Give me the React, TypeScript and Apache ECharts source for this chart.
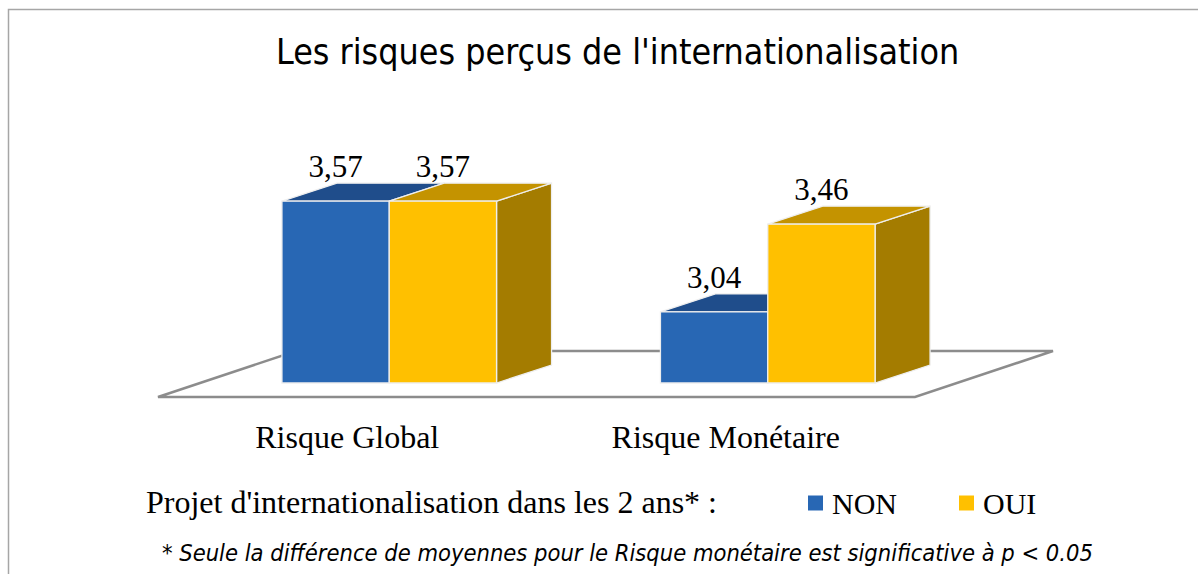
import React, { useEffect, useRef } from "react";
import * as echarts from "echarts";

const categories = ["Risque Global", "Risque Monétaire"];
const seriesNames = ["NON", "OUI"];
const nonValues = [3.57, 3.04];
const ouiValues = [3.57, 3.46];
const valueLabels = ["3,57", "3,04", "3,57", "3,46"];

const FRONT = ["#2867B4", "#FFC000"];
const TOP = ["#1F4D8B", "#C49300"];
const SIDE = ["#1A3F72", "#A47C00"];
const DX = 55;
const DY = -18;
const BAR_FRAC = 0.2835;

function makeBarRender(si: number) {
  return (params: any, api: any) => {
    const cat = api.value(0);
    const val = api.value(1);
    const [cx, yTop] = api.coord([cat, val]);
    const cs = params.coordSys;
    const yBot = cs.y + cs.height;
    const band = api.size([1, 0])[0];
    const bw = band * BAR_FRAC;
    const x0 = si === 0 ? cx - bw : cx;
    const x1 = x0 + bw;
    const stroke = { stroke: "#eeeeee", lineWidth: 1.3 };
    const lbl = valueLabels[si * 2 + params.dataIndex];
    return {
      type: "group",
      children: [
        {
          type: "polygon",
          shape: { points: [[x1, yTop], [x1 + DX, yTop + DY], [x1 + DX, yBot + DY], [x1, yBot]] },
          style: { fill: SIDE[si], ...stroke },
        },
        {
          type: "polygon",
          shape: { points: [[x0, yTop], [x1, yTop], [x1 + DX, yTop + DY], [x0 + DX, yTop + DY]] },
          style: { fill: TOP[si], ...stroke },
        },
        {
          type: "rect",
          shape: { x: x0, y: yTop, width: bw, height: yBot - yTop },
          style: { fill: FRONT[si], ...stroke },
        },
        {
          type: "text",
          x: (x0 + x1) / 2,
          y: yTop + DY - 1,
          style: {
            text: lbl,
            fill: "#000",
            font: '31px "Liberation Serif", "Times New Roman", serif',
            align: "center",
            verticalAlign: "bottom",
          },
        },
      ],
    };
  };
}

function floorRender(params: any) {
  const cs = params.coordSys;
  const gx = cs.x;
  const gr = cs.x + cs.width;
  const gb = cs.y + cs.height;
  return {
    type: "polygon",
    shape: {
      points: [
        [gx - 42, gb + 14],
        [gr - 42, gb + 14],
        [gr + 96, gb - 32],
        [gx + 96, gb - 32],
      ],
    },
    style: { fill: "#ffffff", stroke: "#8c8c8c", lineWidth: 2.5 },
  };
}

export default function App() {
  const ref = useRef<HTMLDivElement>(null);
  useEffect(() => {
    if (!ref.current) return;
    const chart = echarts.init(ref.current, null, { renderer: "svg" });
    chart.setOption({
      animation: false,
      backgroundColor: "#ffffff",
      title: [
        {
          text: "Les risques perçus de l'internationalisation",
          left: 271,
          top: 28,
          textStyle: {
            fontFamily: '"Liberation Sans Narrow", "DejaVu Sans Condensed", sans-serif',
            fontSize: 35.5,
            fontWeight: "normal",
            color: "#000",
          },
        },
        {
          text: "Projet d'internationalisation dans les 2 ans* :",
          left: 141,
          top: 481,
          textStyle: {
            fontFamily: '"Liberation Serif", "Times New Roman", serif',
            fontSize: 32,
            fontWeight: "normal",
            color: "#000",
          },
        },
        {
          text: "* Seule la différence de moyennes pour le Risque monétaire est significative à p < 0.05",
          left: 157,
          top: 536,
          textStyle: {
            fontFamily: '"Liberation Sans Narrow", "DejaVu Sans Condensed", sans-serif',
            fontSize: 23.5,
            fontStyle: "italic",
            fontWeight: "normal",
            color: "#000",
          },
        },
      ],
      legend: {
        data: seriesNames,
        left: 808,
        top: 488,
        icon: "rect",
        itemWidth: 15,
        itemHeight: 15,
        itemGap: 62,
        padding: 0,
        textStyle: {
          fontFamily: '"Liberation Serif", "Times New Roman", serif',
          fontSize: 30,
          color: "#000",
          padding: [0, 0, 0, 4],
        },
      },
      grid: { left: 200, width: 757, top: 174, height: 209 },
      xAxis: {
        type: "category",
        data: categories,
        axisLine: { show: false },
        axisTick: { show: false },
        splitLine: { show: false },
        axisLabel: {
          margin: 38,
          padding: [0, 84, 0, 0],
          fontFamily: '"Liberation Serif", "Times New Roman", serif',
          fontSize: 32,
          color: "#000",
        },
      },
      yAxis: { type: "value", min: 2.7, max: 3.7, show: false },
      graphic: [
        {
          type: "rect",
          shape: { x: 8.5, y: 9.5, width: 1400, height: 1000 },
          style: { fill: "none", stroke: "#a6a6a6", lineWidth: 1.5 },
          z: 100,
        },
      ],
      series: [
        {
          type: "custom",
          name: "floor",
          renderItem: floorRender,
          data: [[0, 2.7]],
          z: 1,
          silent: true,
        },
        {
          type: "custom",
          name: seriesNames[0],
          itemStyle: { color: FRONT[0] },
          renderItem: makeBarRender(0),
          data: categories.map((_, i) => [i, nonValues[i]]),
          z: 2,
        },
        {
          type: "custom",
          name: seriesNames[1],
          itemStyle: { color: FRONT[1] },
          renderItem: makeBarRender(1),
          data: categories.map((_, i) => [i, ouiValues[i]]),
          z: 3,
        },
      ],
    });
    return () => chart.dispose();
  }, []);
  return (
    <div
      ref={ref}
      style={{ position: "fixed", left: 0, top: 0, width: 1198, height: 574 }}
    />
  );
}
